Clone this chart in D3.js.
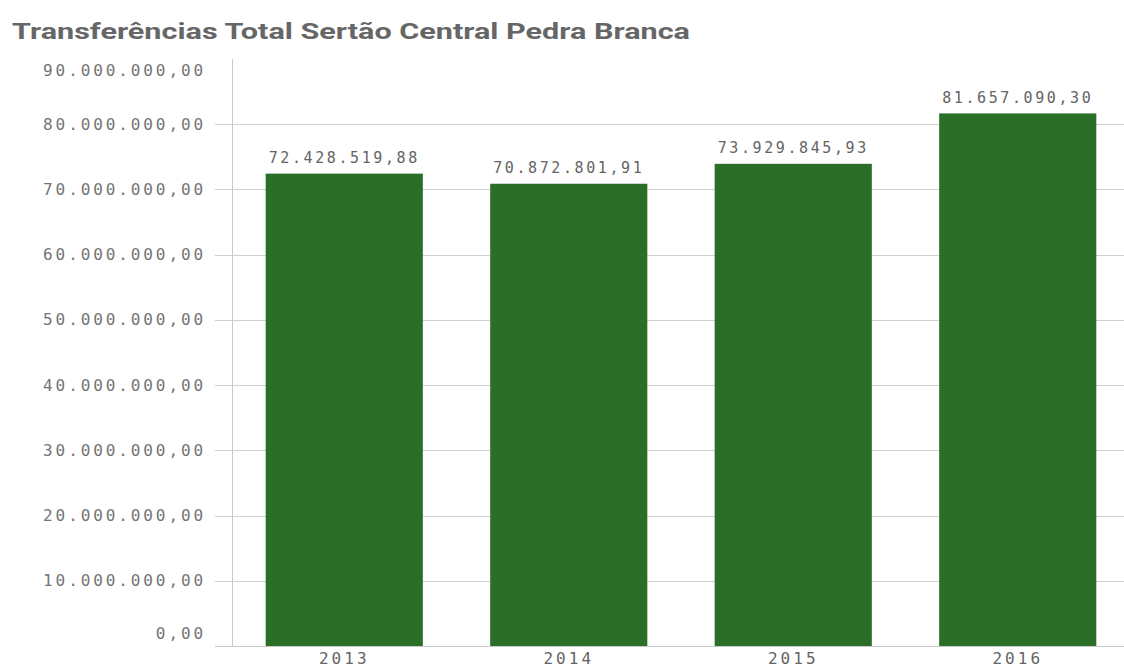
<!DOCTYPE html>
<html>
<head>
<meta charset="utf-8">
<script src="https://cdn.jsdelivr.net/npm/d3@7"></script>
<style>
  body { margin: 0; background: #fff; }
  svg { display: block; }
</style>
</head>
<body>
<svg id="chart" width="1124" height="668"></svg>
<script>
var title = 'Transferências Total Sertão Central Pedra Branca';
var years = ['2013', '2014', '2015', '2016'];
var totals = [72428519.88, 70872801.91, 73929845.93, 81657090.30];
var yTicks = [0, 10e6, 20e6, 30e6, 40e6, 50e6, 60e6, 70e6, 80e6, 90e6];

var svg = d3.select('#chart');
var width = 1124, height = 668;
var margin = { top: 59, right: -6, bottom: 22, left: 232 };

// pt-BR number format: 1.234.567,89
var fmt = d3.formatLocale({ decimal: ',', thousands: '.', grouping: [3], currency: ['R$', ''] }).format(',.2f');

var x = d3.scaleBand().domain(years)
  .range([margin.left, width - margin.right])
  .paddingInner(0.3).paddingOuter(0.15);
var y = d3.scaleLinear().domain([0, 90e6]).range([height - margin.bottom, margin.top]);

var monoFont = '"DejaVu Sans Mono", "Liberation Mono", monospace';

// title
svg.append('text')
  .attr('x', 12).attr('y', 39)
  .attr('fill', '#666')
  .style('font-family', 'Roboto, "Open Sans", sans-serif')
  .style('font-weight', 700)
  .style('font-size', '22px')
  .attr('textLength', 678).attr('lengthAdjust', 'spacingAndGlyphs')
  .text(title);

// gridlines (skip the top one)
svg.append('g').selectAll('line')
  .data(yTicks.filter(function(d) { return d > 0 && d < 90e6; }))
  .enter().append('line')
  .attr('x1', 215).attr('x2', width)
  .attr('y1', function(d) { return Math.round(y(d)) + 0.5; })
  .attr('y2', function(d) { return Math.round(y(d)) + 0.5; })
  .attr('stroke', '#d0d0d0').attr('stroke-width', 1);

// y labels (end labels nudged inside the plot like the original)
svg.append('g').selectAll('text')
  .data(yTicks)
  .enter().append('text')
  .attr('x', 206)
  .attr('y', function(d) {
    if (d === 90e6) return y(d) + 11;
    if (d === 0) return y(d) - 13;
    return y(d);
  })
  .attr('dy', '0.35em')
  .attr('text-anchor', 'end')
  .attr('fill', '#747474')
  .style('font-family', monoFont)
  .style('font-size', '16px')
  .style('letter-spacing', '2.9px')
  .text(function(d) { return fmt(d); });

// bars
svg.append('g').selectAll('rect')
  .data(totals)
  .enter().append('rect')
  .attr('x', function(d, i) { return x(years[i]); })
  .attr('width', x.bandwidth())
  .attr('y', function(d) { return y(d); })
  .attr('height', function(d) { return y(0) - y(d); })
  .attr('fill', '#2a6e28');

// value labels
svg.append('g').selectAll('text')
  .data(totals)
  .enter().append('text')
  .attr('x', function(d, i) { return x(years[i]) + x.bandwidth() / 2; })
  .attr('y', function(d) { return y(d) - 16; })
  .attr('dy', '0.35em')
  .attr('text-anchor', 'middle')
  .attr('fill', '#646464')
  .style('font-family', monoFont)
  .style('font-size', '15px')
  .style('letter-spacing', '2.6px')
  .text(function(d) { return fmt(d); });

// axis lines
svg.append('line')
  .attr('x1', margin.left + 0.5).attr('x2', margin.left + 0.5)
  .attr('y1', margin.top).attr('y2', y(0))
  .attr('stroke', '#c8c8c8');
svg.append('line')
  .attr('x1', 215).attr('x2', width)
  .attr('y1', Math.round(y(0)) + 0.5).attr('y2', Math.round(y(0)) + 0.5)
  .attr('stroke', '#c8c8c8');

// x labels
svg.append('g').selectAll('text')
  .data(years)
  .enter().append('text')
  .attr('x', function(d) { return x(d) + x.bandwidth() / 2; })
  .attr('y', y(0) + 12)
  .attr('dy', '0.35em')
  .attr('text-anchor', 'middle')
  .attr('fill', '#646464')
  .style('font-family', monoFont)
  .style('font-size', '16px')
  .style('letter-spacing', '3px')
  .text(function(d) { return d; });
</script>
</body>
</html>
